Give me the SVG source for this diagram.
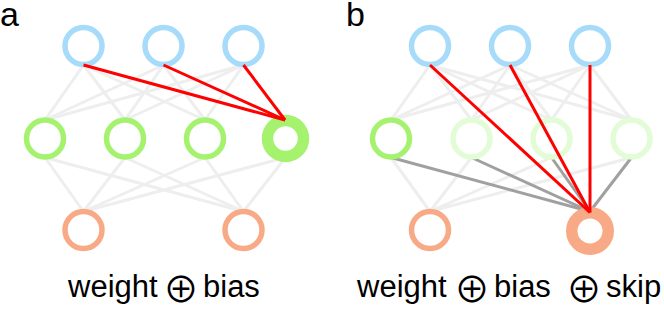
<svg xmlns="http://www.w3.org/2000/svg" width="664" height="309" viewBox="0 0 664 309">
<style>
.n{fill:none;stroke-width:5.5}
.big{fill:none;stroke-width:11.5}
.blue{stroke:#a6dbfa}
.green{stroke:#a5f26e}
.pale{stroke:#e2fcd6}
.orange{stroke:#f8aa86}
.e{stroke:#eeeeee;stroke-width:3;fill:none}
.d{stroke:#a0a0a0;stroke-width:3;fill:none}
.r{stroke:#ff0000;stroke-width:3;fill:none}
.t{font-family:"Liberation Sans",Arial,sans-serif;font-size:31px;fill:#000}
.op{font-family:"Noto Sans CJK JP","DejaVu Sans",sans-serif;font-size:36px;fill:#000;text-anchor:middle}
.lab{font-family:"Liberation Sans",Arial,sans-serif;font-size:34px;fill:#000}
</style>
<rect width="664" height="309" fill="#fff"/>
<g id="connectors-base">
<line class="e" x1="83.5" y1="65" x2="45" y2="120"/>
<line class="e" x1="83.5" y1="65" x2="125" y2="120"/>
<line class="e" x1="83.5" y1="65" x2="205" y2="120"/>
<line class="e" x1="163.5" y1="65" x2="45" y2="120"/>
<line class="e" x1="163.5" y1="65" x2="125" y2="120"/>
<line class="e" x1="163.5" y1="65" x2="205" y2="120"/>
<line class="e" x1="243.5" y1="65" x2="45" y2="120"/>
<line class="e" x1="243.5" y1="65" x2="125" y2="120"/>
<line class="e" x1="243.5" y1="65" x2="205" y2="120"/>
<line class="e" x1="45" y1="157.5" x2="83.5" y2="211.5"/>
<line class="e" x1="45" y1="157.5" x2="243.5" y2="211.5"/>
<line class="e" x1="125" y1="157.5" x2="83.5" y2="211.5"/>
<line class="e" x1="125" y1="157.5" x2="243.5" y2="211.5"/>
<line class="e" x1="205" y1="157.5" x2="83.5" y2="211.5"/>
<line class="e" x1="205" y1="157.5" x2="243.5" y2="211.5"/>
<line class="e" x1="285.5" y1="157.5" x2="83.5" y2="211.5"/>
<line class="e" x1="285.5" y1="157.5" x2="243.5" y2="211.5"/>
<line class="e" x1="430" y1="65" x2="391" y2="120"/>
<line class="e" x1="430" y1="65" x2="471.5" y2="120"/>
<line class="e" x1="430" y1="65" x2="551.5" y2="120"/>
<line class="e" x1="430" y1="65" x2="631.5" y2="120"/>
<line class="e" x1="510" y1="65" x2="391" y2="120"/>
<line class="e" x1="510" y1="65" x2="471.5" y2="120"/>
<line class="e" x1="510" y1="65" x2="551.5" y2="120"/>
<line class="e" x1="510" y1="65" x2="631.5" y2="120"/>
<line class="e" x1="590" y1="65" x2="391" y2="120"/>
<line class="e" x1="590" y1="65" x2="471.5" y2="120"/>
<line class="e" x1="590" y1="65" x2="551.5" y2="120"/>
<line class="e" x1="590" y1="65" x2="631.5" y2="120"/>
<line class="e" x1="391" y1="157.5" x2="430" y2="211.5"/>
<line class="e" x1="471.5" y1="157.5" x2="430" y2="211.5"/>
<line class="e" x1="551.5" y1="157.5" x2="430" y2="211.5"/>
<line class="e" x1="631.5" y1="157.5" x2="430" y2="211.5"/>
<line class="d" x1="391" y1="157.5" x2="590" y2="211.5"/>
<line class="d" x1="471.5" y1="157.5" x2="590" y2="211.5"/>
<line class="d" x1="551.5" y1="157.5" x2="590" y2="211.5"/>
<line class="d" x1="631.5" y1="157.5" x2="590" y2="211.5"/>
</g>
<g id="a-top1"><circle class="n blue" cx="83.5" cy="46" r="18.5"/></g>
<g id="a-top2"><circle class="n blue" cx="163.5" cy="46" r="18.5"/></g>
<g id="a-top3"><circle class="n blue" cx="243.5" cy="46" r="18.5"/></g>
<g id="a-mid1"><circle class="n green" cx="45" cy="138.5" r="18.5"/></g>
<g id="a-mid2"><circle class="n green" cx="125" cy="138.5" r="18.5"/></g>
<g id="a-mid3"><circle class="n green" cx="205" cy="138.5" r="18.5"/></g>
<g id="a-mid4"><circle class="big green" cx="285.5" cy="138.5" r="18"/></g>
<g id="a-bot1"><circle class="n orange" cx="83.5" cy="230" r="18.5"/></g>
<g id="a-bot2"><circle class="n orange" cx="243.5" cy="230" r="18.5"/></g>
<g id="b-top1"><circle class="n blue" cx="430" cy="46" r="18.5"/></g>
<g id="b-top2"><circle class="n blue" cx="510" cy="46" r="18.5"/></g>
<g id="b-top3"><circle class="n blue" cx="590" cy="46" r="18.5"/></g>
<g id="b-mid1"><circle class="n green" cx="391" cy="138.5" r="18.5"/></g>
<g id="b-mid2"><circle class="n pale" cx="471.5" cy="138.5" r="18.5"/></g>
<g id="b-mid3"><circle class="n pale" cx="551.5" cy="138.5" r="18.5"/></g>
<g id="b-mid4"><circle class="n pale" cx="631.5" cy="138.5" r="18.5"/></g>
<g id="b-bot1"><circle class="n orange" cx="430" cy="230" r="18.5"/></g>
<g id="b-bot2"><circle class="big orange" cx="590" cy="231" r="18.25"/></g>
<g id="connectors-highlight">
<line class="r" x1="83.5" y1="65" x2="285" y2="120"/>
<line class="r" x1="163.5" y1="65" x2="285" y2="120"/>
<line class="r" x1="243.5" y1="65" x2="285" y2="120"/>
<line class="r" x1="430" y1="65" x2="590" y2="212.5"/>
<line class="r" x1="510" y1="65" x2="590" y2="212.5"/>
<line class="r" x1="590" y1="65" x2="590" y2="212.5"/>
</g>
<g id="labels">
<text class="lab" x="0" y="26">a</text>
<text class="lab" x="346" y="25.5">b</text>
<text class="t" x="68" y="297">weight</text>
<text class="op" x="181" y="303">⊕</text>
<text class="t" x="203" y="297">bias</text>
<text class="t" x="357" y="297">weight</text>
<text class="op" x="472" y="303">⊕</text>
<text class="t" x="494" y="297">bias</text>
<text class="op" x="584" y="303">⊕</text>
<text class="t" x="606" y="297">skip</text>
</g>
</svg>
